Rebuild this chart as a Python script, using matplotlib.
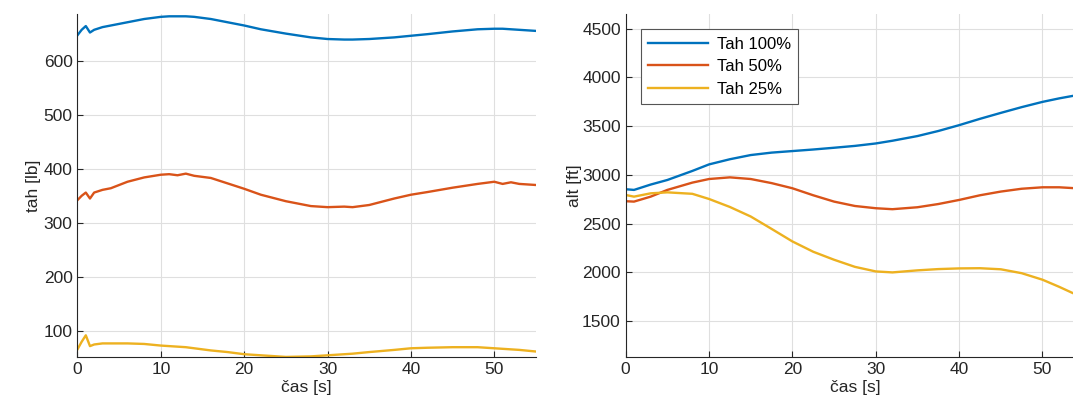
import matplotlib.pyplot as plt
import numpy as np

# tah [lb] vs cas [s]
t_tah = [0, 0.5, 1, 1.5, 2, 3, 4, 5, 6, 8, 10, 11, 12, 13, 14, 16, 18, 20, 22, 25, 28, 30, 32, 33, 35, 38, 40, 42, 45, 48, 50, 51, 52, 53, 55]
tah100 = [647, 657, 664, 652, 657, 662, 665, 668, 671, 677, 681, 682, 682, 682, 681, 677, 671, 665, 658, 650, 643, 640, 639, 639, 640, 643, 646, 649, 654, 658, 659, 659, 658, 657, 655]
tah50 = [342, 350, 356, 345, 356, 361, 364, 370, 376, 384, 389, 390, 388, 391, 387, 383, 373, 363, 352, 340, 331, 329, 330, 329, 333, 345, 352, 357, 365, 372, 376, 372, 375, 372, 370]
tah25 = [66, 80, 92, 72, 75, 77, 77, 77, 77, 76, 73, 72, 71, 70, 68, 64, 61, 57, 55, 52, 53, 55, 57, 58, 61, 65, 68, 69, 70, 70, 68, 67, 66, 65, 62]

# alt [ft] vs cas [s]
t_alt = [0, 1, 3, 5, 8, 10, 12.5, 15, 17.5, 20, 22.5, 25, 27.5, 30, 32, 35, 37.5, 40, 42.5, 45, 47.5, 50, 52, 53.6, 55]
alt100 = [2852, 2845, 2900, 2947, 3040, 3107, 3160, 3203, 3228, 3244, 3260, 3278, 3297, 3322, 3350, 3398, 3450, 3510, 3575, 3636, 3695, 3749, 3785, 3810, 3830]
alt50 = [2729, 2725, 2776, 2845, 2920, 2957, 2974, 2957, 2915, 2862, 2790, 2725, 2680, 2657, 2647, 2667, 2700, 2742, 2790, 2828, 2857, 2872, 2872, 2864, 2855]
alt25 = [2793, 2776, 2810, 2820, 2805, 2752, 2670, 2572, 2445, 2316, 2210, 2128, 2055, 2008, 1998, 2019, 2032, 2039, 2041, 2030, 1990, 1923, 1850, 1787, 1740]

labels = ['Tah 100%', 'Tah 50%', 'Tah 25%']
colors = ['#0072BD', '#D95319', '#EDB120']

plt.rcParams['font.family'] = ['Liberation Sans', 'DejaVu Sans']
fs = 12.5
axcol = '#262626'

fig = plt.figure(figsize=(10.73, 4.16), dpi=100)
ax1 = fig.add_axes([0.0722, 0.142, 0.4273, 0.824])
# right axes runs past the figure edge, as in the reference
ax2 = fig.add_axes([0.5831, 0.142, 0.4273, 0.824])

for ys, c in zip([tah100, tah50, tah25], colors):
    ax1.plot(t_tah, ys, color=c, lw=1.7)
for ys, c, l in zip([alt100, alt50, alt25], colors, labels):
    ax2.plot(t_alt, ys, color=c, lw=1.7, label=l)

ax1.set_xlim(0, 55)
ax1.set_ylim(52, 686)
ax1.set_yticks([100, 200, 300, 400, 500, 600])
ax1.set_ylabel('tah [lb]', fontsize=fs, color=axcol, labelpad=2)

ax2.set_xlim(0, 55)
ax2.set_ylim(1130, 4650)
ax2.set_yticks([1500, 2000, 2500, 3000, 3500, 4000, 4500])
ax2.set_ylabel('alt [ft]', fontsize=fs, color=axcol, labelpad=0)

for ax in (ax1, ax2):
    ax.set_xticks([0, 10, 20, 30, 40, 50])
    ax.set_xlabel('čas [s]', fontsize=fs, color=axcol, labelpad=2)
    ax.grid(True, color='#dfdfdf', lw=0.8)
    ax.set_axisbelow(True)
    ax.spines['top'].set_visible(False)
    ax.spines['right'].set_visible(False)
    for s in ('left', 'bottom'):
        ax.spines[s].set_color(axcol)
        ax.spines[s].set_linewidth(0.8)
    ax.tick_params(direction='in', length=4, labelsize=fs, colors=axcol, width=0.8)

leg = ax2.legend(loc='upper left', bbox_to_anchor=(0.033, 0.956), fontsize=fs - 0.5,
                 fancybox=False, framealpha=1, edgecolor='#555555', handlelength=3.6,
                 borderpad=0.45, labelspacing=0.45, handletextpad=0.5, borderaxespad=0)
leg.get_frame().set_linewidth(0.8)

fig.savefig('out.png', dpi=100)
